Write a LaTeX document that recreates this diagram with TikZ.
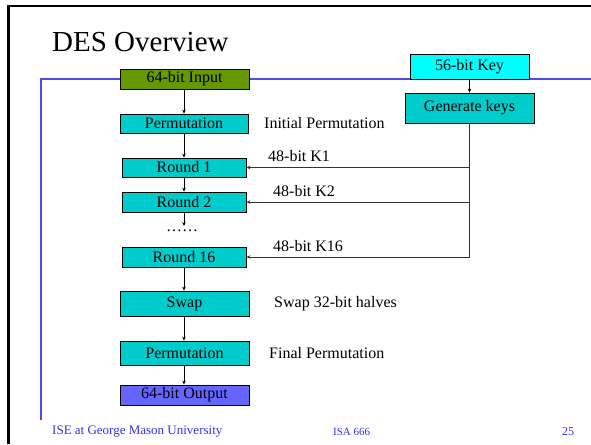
\documentclass[tikz,border=0pt]{standalone}
\usepackage{fontspec}
\setmainfont{Liberation Serif}
\usetikzlibrary{arrows.meta}
\definecolor{inputgreen}{HTML}{669900}
\definecolor{stagecyan}{HTML}{00CCCC}
\definecolor{keycyan}{HTML}{00FFFF}
\definecolor{outblue}{HTML}{6666FF}
\definecolor{ruleblue}{HTML}{4B4BF0}
\definecolor{footblue}{HTML}{3333EE}
\tikzset{
  stagebox/.style={draw=black, line width=0.8pt, inner sep=0pt, fill=stagecyan,
    font=\fontsize{16}{18}\selectfont, text=black},
  flow/.style={draw=black, line width=0.6pt, -{Stealth[length=4pt,width=3.5pt]}},
  keyline/.style={draw=black!80, line width=0.9pt},
  keyarrow/.style={keyline, -{Stealth[length=4pt,width=3.5pt]}},
  caption/.style={anchor=west, inner sep=0pt, font=\fontsize{16}{18}\selectfont},
  footer/.style={anchor=west, inner sep=0pt, text=footblue}
}
\begin{document}
\begin{tikzpicture}[x=1pt, y=-1pt]
\useasboundingbox (0,0) rectangle (591,444);
\fill[white] (0,0) rectangle (591,444);

% slide frame (left and top edges)
\fill[black] (7,5) rectangle (9.5,444);
\fill[black] (7,5) rectangle (591,7.5);
% blue rule of the content area
\draw[ruleblue, line width=1.2pt] (41,420) -- (41,79) -- (591,79);

% title
\node[anchor=base west, inner sep=0pt, font=\fontsize{29}{33}\selectfont] (title) at (52,52) {DES Overview};

% main data path
\node[stagebox, fill=inputgreen, minimum width=129pt, minimum height=20pt] (in) at (184.5,79) {64-bit Input};
\node[stagebox, minimum width=128pt, minimum height=19pt] (ip) at (184,123.5) {Permutation};
\node[stagebox, minimum width=124pt, minimum height=19pt] (r1) at (184,167.5) {Round 1};
\node[stagebox, minimum width=124pt, minimum height=20pt] (r2) at (184,202) {Round 2};
\node[inner sep=0pt, font=\fontsize{16}{18}\selectfont] (dots) at (182,231) {……};
\coordinate (dotstop) at (184,226);
\node[stagebox, minimum width=124pt, minimum height=20pt] (r16) at (184,257) {Round 16};
\node[stagebox, minimum width=129pt, minimum height=25pt] (swap) at (184.5,303.5) {Swap};
\node[stagebox, minimum width=129pt, minimum height=24pt] (fp) at (184.5,353) {Permutation};
\node[stagebox, fill=outblue, minimum width=129pt, minimum height=20pt] (out) at (184.5,395) {64-bit Output};

% key schedule
\node[stagebox, fill=keycyan, minimum width=119pt, minimum height=25pt] (key) at (469.5,66.5) {56-bit Key};
\node[stagebox, minimum width=129pt, minimum height=30pt] (gen) at (469.5,108) {Generate keys};

% captions
\node[caption] (ipl) at (264,123) {Initial Permutation};
\node[caption] (k1l) at (268,156) {48-bit K1};
\node[caption] (k2l) at (273,191) {48-bit K2};
\node[caption] (k16l) at (273,246) {48-bit K16};
\node[caption] (swl) at (274,304) {Swap 32-bit halves};
\node[caption] (fpl) at (269,353) {Final Permutation};

% data flow arrows
\draw[flow] (in.south -| ip.north) -- (ip.north);
\draw[flow] (ip.south) -- (r1.north);
\draw[flow] (r1.south) -- (r2.north);
\draw[flow] (r2.south) -- (dotstop);
\draw[flow] (r16.south) -- (r16.south |- swap.north);
\draw[flow] (r16.south |- swap.south) -- (r16.south |- fp.north);
\draw[flow] (r16.south |- fp.south) -- (r16.south |- out.north);

% subkey distribution
\draw[flow] (key.south) -- (gen.north);
\draw[keyline] (gen.south) -- (gen.south |- r16.east);
\draw[keyarrow] (gen.south |- r1.east) -- (r1.east);
\draw[keyarrow] (gen.south |- r2.east) -- (r2.east);
\draw[keyarrow] (gen.south |- r16.east) -- (r16.east);

% footer
\node[footer, font=\fontsize{13}{15}\selectfont] (f1) at (52,432) {ISE at George Mason University};
\node[footer, font=\fontsize{11}{13}\selectfont] (f2) at (333,432) {ISA 666};
\node[footer, font=\fontsize{12}{14}\selectfont] (f3) at (562,432) {25};
\end{tikzpicture}
\end{document}
